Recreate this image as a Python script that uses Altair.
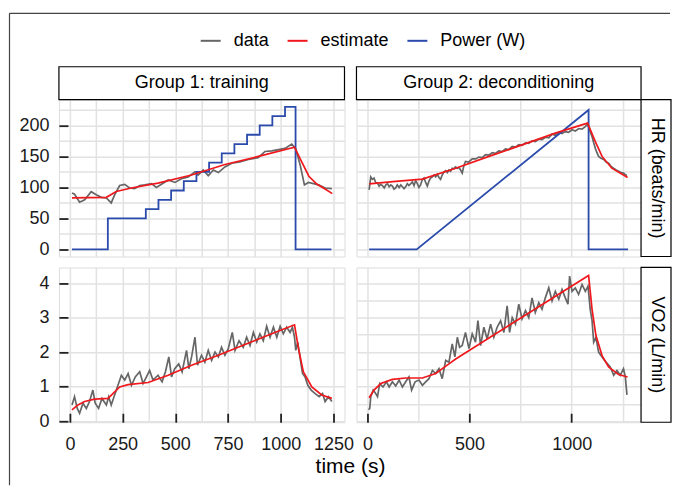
import altair as alt
import pandas as pd

# ---------------- labels / categories ----------------
SERIES = ["data", "estimate", "Power (W)"]
COLORS = ["#666666", "#f0181c", "#2a4bab"]
GROUPS = ["Group 1: training", "Group 2: deconditioning"]
MEASURES = ["HR (beats/min)", "VO2 (L/min)"]
X_TITLE = "time (s)"

# tick / grid values (major ones get labels)
X1_TICKS = [0, 125, 250, 375, 500, 625, 750, 875, 1000, 1125, 1250]
X1_MAJOR = 250
X2_TICKS = [0, 250, 500, 750, 1000, 1250]
X2_MAJOR = 500
Y1_TICKS = [0, 25, 50, 75, 100, 125, 150, 175, 200, 225]
Y1_MAJOR = 50
Y2_TICKS = [0, 0.5, 1, 1.5, 2, 2.5, 3, 3.5, 4]
Y2_MAJOR = 1

# ---------------- Group 1, HR ----------------
g1_hr_t = [10, 22, 46, 70, 101, 125, 149, 173, 196, 212, 236, 260, 283, 307, 331, 355, 387, 410,
           434, 466, 498, 529, 561, 593, 608, 632, 656, 680, 704, 735, 767, 806, 846, 893, 925,
           957, 989, 1020, 1052, 1071, 1092, 1112, 1131, 1155, 1179, 1210, 1242]
g1_hr_v = [91, 89, 76, 80, 93, 88, 84, 83, 75, 88, 103, 105, 99, 98, 103, 104, 106, 100,
           105, 112, 108, 114, 117, 125, 120, 128, 119, 128, 124, 133, 139, 141, 145, 148, 158,
           159, 161, 163, 170, 162, 136, 104, 108, 106, 104, 99, 98]
g1_hr_est_t = [10, 173, 220, 291, 418, 577, 735, 894, 1065, 1101, 1133, 1172, 1212, 1244]
g1_hr_est_v = [83, 84, 93.5, 99, 107, 120, 137, 150, 165, 140, 118, 105, 97, 90]
g1_pow_t = [10, 180, 360, 420, 480, 540, 600, 660, 720, 780, 840, 900, 960, 1020, 1070, 1240]
g1_pow_v = [0, 50, 65, 80, 95, 110, 125, 140, 155, 170, 185, 200, 215, 230, 0, 0]

# ---------------- Group 2, HR ----------------
g2_hr_t = [8, 16, 24, 32, 40, 49, 57, 65, 73, 82, 90, 98, 106, 114, 122, 130, 138, 146, 155, 163,
           171, 179, 187, 195, 203, 212, 220, 228, 236, 244, 252, 260, 268, 277, 285, 293, 301,
           309, 318, 326, 334, 342, 350, 358, 366, 375, 383, 391, 399, 407, 415, 423, 431, 440,
           448, 456, 464, 472, 480, 496, 513, 530, 546, 562, 578, 595, 611, 627, 643, 660, 676,
           692, 709, 725, 741, 758, 774, 790, 806, 822, 839, 855, 872, 888, 904, 920, 937, 953,
           969, 985, 1002, 1018, 1035, 1051, 1067, 1078, 1089, 1100, 1108, 1116, 1124, 1132,
           1144, 1157, 1169, 1181, 1193, 1205, 1218, 1230, 1242, 1254, 1262, 1271]
g2_hr_v = [96, 117, 113, 115, 108, 107, 102, 105, 103, 99, 104, 106, 101, 104, 102, 97, 99, 104,
           100, 104, 101, 98, 101, 106, 103, 106, 109, 103, 111, 106, 100, 104, 112, 115, 108,
           102, 110, 115, 117, 120, 117, 121, 116, 113, 120, 125, 127, 124, 128, 126, 131, 130,
           133, 131, 132, 128, 123, 135, 142, 141, 146, 146, 149, 148, 153, 152, 156, 155, 159,
           158, 162, 161, 166, 165, 169, 168, 172, 171, 175, 174, 178, 177, 181, 180, 186, 184,
           189, 187, 190, 189, 193, 191, 195, 194, 198, 202, 192, 182, 172, 163, 156, 150, 147,
           145, 141, 139, 134, 131, 128, 126, 124, 123, 121, 119]
g2_hr_est_t = [8, 138, 269, 432, 595, 757, 920, 1078, 1116, 1149, 1197, 1274]
g2_hr_est_v = [105.8, 109.6, 113.4, 131, 150, 168.7, 187.6, 203.7, 174, 150, 131, 116]
g2_pow_t = [8, 241, 1083, 1083, 1276]
g2_pow_v = [0, 0, 225, 0, 0]

# ---------------- Group 1, VO2 ----------------
g1_vo_t = [10, 22, 35, 46, 62, 78, 93, 109, 120, 136, 152, 173, 184, 196, 212, 228, 244, 260,
           276, 292, 310, 331, 347, 363, 378, 394, 418, 437, 453, 469, 482, 497, 516, 532, 553,
           564, 577, 593, 605, 624, 640, 656, 672, 688, 704, 719, 735, 751, 770, 783, 802, 822,
           838, 854, 870, 886, 901, 917, 933, 949, 965, 981, 997, 1012, 1028, 1044, 1055, 1065,
           1071, 1080, 1092, 1103, 1115, 1128, 1144, 1163, 1182, 1198, 1210, 1226, 1242]
g1_vo_v = [0.47, 0.71, 0.37, 0.23, 0.52, 0.37, 0.57, 0.90, 0.52, 0.37, 0.66, 0.47, 0.71, 0.47,
           0.76, 1.04, 1.33, 1.19, 1.38, 1.04, 1.28, 1.43, 1.09, 1.28, 1.47, 1.19, 1.33, 1.14,
           1.43, 1.86, 1.28, 1.52, 1.66, 1.43, 2.05, 1.52, 1.86, 2.43, 1.62, 1.91, 1.71, 2.05,
           1.76, 2.00, 1.86, 2.14, 1.91, 2.10, 2.57, 2.05, 2.33, 2.14, 2.43, 2.19, 2.57, 2.29,
           2.53, 2.33, 2.75, 2.43, 2.72, 2.43, 2.75, 2.53, 2.72, 2.57, 2.72, 2.43, 2.05, 2.29,
           1.81, 1.38, 1.28, 1.04, 0.90, 0.80, 0.71, 0.80, 0.57, 0.71, 0.57]
g1_vo_est_t = [10, 38, 70, 117, 181, 204, 236, 276, 371, 466, 577, 704, 830, 957, 1065, 1084,
               1107, 1147, 1194, 1242]
g1_vo_est_v = [0.33, 0.47, 0.57, 0.64, 0.66, 0.80, 0.99, 1.06, 1.12, 1.33, 1.62, 1.91, 2.22,
               2.53, 2.79, 2.10, 1.43, 0.99, 0.76, 0.66]

# ---------------- Group 2, VO2 ----------------
g2_vo_t = [5, 11, 16, 28, 40, 49, 60, 76, 93, 106, 122, 138, 155, 171, 187, 203, 216, 233, 252,
           269, 285, 301, 318, 334, 350, 366, 383, 399, 415, 428, 440, 451, 464, 480, 497, 513,
           529, 541, 554, 570, 586, 603, 619, 635, 652, 668, 684, 696, 709, 725, 741, 757, 774,
           790, 806, 822, 839, 855, 871, 888, 904, 920, 937, 953, 969, 982, 990, 1002, 1018,
           1034, 1051, 1067, 1080, 1091, 1100, 1108, 1119, 1132, 1149, 1168, 1189, 1206, 1222,
           1238, 1254, 1263, 1271]
g2_vo_v = [0.33, 0.37, 0.71, 0.90, 0.80, 0.71, 1.09, 0.99, 1.14, 0.99, 1.14, 1.02, 1.19, 0.99,
           1.14, 1.28, 0.90, 1.14, 1.19, 1.04, 1.14, 1.23, 1.47, 1.38, 1.52, 1.23, 1.76, 1.71,
           2.24, 1.86, 2.43, 2.14, 2.19, 2.57, 2.10, 2.53, 2.29, 2.91, 2.19, 2.72, 2.38, 2.81,
           2.43, 2.72, 2.91, 2.57, 3.34, 2.57, 3.00, 2.81, 3.39, 2.96, 3.20, 3.00, 3.57, 3.15,
           3.43, 3.24, 3.57, 3.86, 3.48, 3.76, 3.53, 3.81, 3.57, 3.39, 4.20, 3.76, 3.86, 3.67,
           3.96, 3.76, 3.91, 3.24, 2.91, 2.29, 2.43, 2.00, 1.86, 1.71, 1.57, 1.33, 1.47, 1.33,
           1.52, 1.28, 0.76]
g2_vo_est_t = [8, 32, 65, 122, 187, 269, 334, 399, 432, 1083, 1100, 1119, 1149, 1181, 1230, 1274]
g2_vo_est_v = [0.68, 0.90, 1.09, 1.21, 1.25, 1.25, 1.38, 1.66, 1.80, 4.22, 3.24, 2.48, 1.90,
               1.57, 1.35, 1.28]

# ---------------- styling ----------------
FONT = "Liberation Sans, Arial, Helvetica, sans-serif"
W1, W2, H1, H2 = 286, 285, 157, 155
X1_DOM, X2_DOM = [-52, 1302], [-54, 1340]
Y1_DOM, Y2_DOM = [-11.5, 241.5], [-0.03, 4.45]
GRID = "#e2e2e2"
GRID_W = 1.5


def frame(t, v, s):
    return pd.DataFrame({"t": t, "v": v, "series": s, "i": list(range(len(t)))})


color = alt.Color(
    "series:N",
    scale=alt.Scale(domain=SERIES, range=COLORS),
    legend=alt.Legend(
        title=None, orient="none", legendX=141, legendY=-70, direction="horizontal",
        symbolType="stroke", symbolSize=400, symbolStrokeWidth=2,
        labelFontSize=18, labelFont=FONT, labelColor="#000", labelOffset=12,
        columnPadding=14, labelLimit=0,
    ),
)


def major_test(m):
    return f"abs(datum.value / {m} - round(datum.value / {m})) < 0.000001"


def grid_axis(values):
    return alt.Axis(values=values, labels=False, ticks=False, domain=False, grid=True,
                    title=None, gridColor=GRID, gridWidth=GRID_W)


def label_axis(values, major, pad, **extra):
    test = major_test(major)
    return alt.Axis(
        values=values, format="d", labelExpr=f"{test} ? datum.label : ''",
        labelFontSize=18, labelFont=FONT, labelColor="#1a1a1a", labelPadding=pad,
        labelFlush=False, ticks=True, tickSize={"expr": "-9"}, tickColor="#222",
        tickWidth=1.8, tickOpacity={"condition": {"test": test, "value": 1}, "value": 0},
        domain=False, grid=True, gridColor=GRID, gridWidth=GRID_W, **extra,
    )


def panel(d_df, e_df, p_df, interp, xdom, ydom, W, H, xaxis, yaxis, top=None, right=None,
          outer=False):
    x = alt.X("t:Q", scale=alt.Scale(domain=xdom, nice=False, zero=False), axis=xaxis)
    y = alt.Y("v:Q", scale=alt.Scale(domain=ydom, nice=False, zero=False), axis=yaxis)
    layers = [alt.Chart(d_df).mark_line(strokeWidth=1.7).encode(
        x=x, y=y, color=color, order="i:Q")]
    if p_df is not None:
        layers.append(alt.Chart(p_df).mark_line(strokeWidth=1.8, interpolate=interp).encode(
            x=x, y=y, color=color, order="i:Q"))
    layers.append(alt.Chart(e_df).mark_line(strokeWidth=1.7).encode(
        x=x, y=y, color=color, order="i:Q"))
    if top is not None:
        sd = pd.DataFrame({"label": [top]})
        layers.append(alt.Chart(sd).mark_rect(fill="white", stroke="#000", strokeWidth=1.2).encode(
            x=alt.value(0), x2=alt.value(W), y=alt.value(-33), y2=alt.value(0)))
        layers.append(alt.Chart(sd).mark_text(fontSize=18, font=FONT, color="#000",
                                              baseline="middle", align="center").encode(
            text="label:N", x=alt.value(W / 2), y=alt.value(-16.5)))
    if right is not None:
        sd = pd.DataFrame({"label": [right]})
        layers.append(alt.Chart(sd).mark_rect(fill="white", stroke="#000", strokeWidth=1.2).encode(
            x=alt.value(W), x2=alt.value(W + 30), y=alt.value(0), y2=alt.value(H)))
        layers.append(alt.Chart(sd).mark_text(fontSize=18, font=FONT, color="#000", angle=90,
                                              baseline="middle", align="center").encode(
            text="label:N", x=alt.value(W + 15.5), y=alt.value(H / 2)))
    if outer:
        fd = pd.DataFrame({"k": [0]})
        layers.append(alt.Chart(fd).mark_rule(color="#444", strokeWidth=1.2).encode(
            x=alt.value(-49.5), y=alt.value(-86.5), y2=alt.value(386)))
        layers.append(alt.Chart(fd).mark_rule(color="#444", strokeWidth=1.2).encode(
            x=alt.value(-49.5), x2=alt.value(612), y=alt.value(-86.5)))
    return alt.layer(*layers).properties(width=W, height=H)


p11 = panel(frame(g1_hr_t, g1_hr_v, SERIES[0]), frame(g1_hr_est_t, g1_hr_est_v, SERIES[1]),
            frame(g1_pow_t, g1_pow_v, SERIES[2]), "step-after", X1_DOM, Y1_DOM, W1, H1,
            grid_axis(X1_TICKS), label_axis(Y1_TICKS, Y1_MAJOR, 19, title=None),
            top=GROUPS[0], outer=True)
p12 = panel(frame(g2_hr_t, g2_hr_v, SERIES[0]), frame(g2_hr_est_t, g2_hr_est_v, SERIES[1]),
            frame(g2_pow_t, g2_pow_v, SERIES[2]), "linear", X2_DOM, Y1_DOM, W2, H1,
            grid_axis(X2_TICKS), grid_axis(Y1_TICKS), top=GROUPS[1], right=MEASURES[0])
p21 = panel(frame(g1_vo_t, g1_vo_v, SERIES[0]), frame(g1_vo_est_t, g1_vo_est_v, SERIES[1]),
            None, "linear", X1_DOM, Y2_DOM, W1, H2,
            label_axis(X1_TICKS, X1_MAJOR, 22, title=X_TITLE, titleFontSize=21, titleFont=FONT,
                       titleFontWeight="normal", titleColor="#000", titleX=291.5, titleY=33,
                       titleAlign="center", titleBaseline="top"),
            label_axis(Y2_TICKS, Y2_MAJOR, 19, title=None))
p22 = panel(frame(g2_vo_t, g2_vo_v, SERIES[0]), frame(g2_vo_est_t, g2_vo_est_v, SERIES[1]),
            None, "linear", X2_DOM, Y2_DOM, W2, H2,
            label_axis(X2_TICKS, X2_MAJOR, 22, title=None), grid_axis(Y2_TICKS),
            right=MEASURES[1])

chart = alt.concat(p11, p12, p21, p22, columns=2, spacing={"row": 11, "column": 12},
                   bounds="flush").properties(
    padding={"left": 0, "top": 3.5, "right": 0, "bottom": 0}
).configure_view(stroke="#333", strokeWidth=1.3).configure(background="white")

chart.save("out.html", embed_options={"renderer": "svg", "actions": False})
